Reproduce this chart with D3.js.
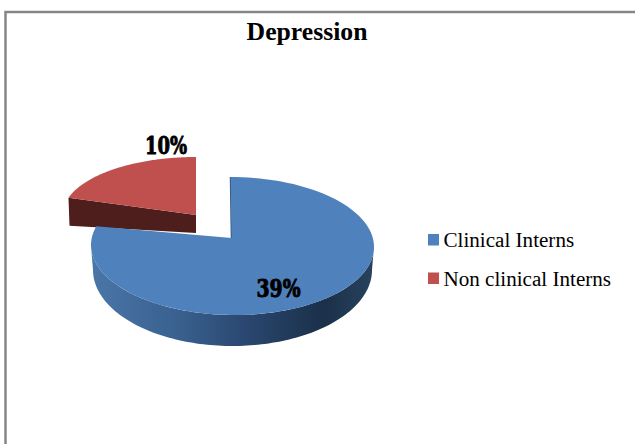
<!DOCTYPE html>
<html>
<head>
<meta charset="utf-8">
<script src="https://cdn.jsdelivr.net/npm/d3@7"></script>
<style>
  html, body { margin: 0; padding: 0; background: #fff; }
  svg { display: block; }
</style>
</head>
<body>
<svg id="chart" width="635" height="444"></svg>
<script>
const categories = ["Clinical Interns", "Non clinical Interns"];
const values = [39, 10];
const valueLabels = ["39%", "10%"];
const colors = ["#4f81bd", "#c0504d"];
const chartTitle = "Depression";

const svg = d3.select("#chart");
const serif = "'Liberation Serif', 'Times New Roman', serif";

// Chart frame: open at the right and bottom of the page.
svg.append("path")
  .attr("d", "M5.5,444V12H635")
  .attr("fill", "none").attr("stroke", "#868686").attr("stroke-width", 2.5);

svg.append("text")
  .attr("x", 307).attr("y", 39.5)
  .attr("text-anchor", "middle")
  .attr("font-family", serif).attr("font-weight", "bold").attr("font-size", 25.7)
  .attr("fill", "#000").text(chartTitle);

const defs = svg.append("defs");
const sideGradient = defs.append("linearGradient")
  .attr("id", "blueSide").attr("gradientUnits", "userSpaceOnUse")
  .attr("x1", 91).attr("x2", 374).attr("y1", 0).attr("y2", 0);
[[0, "#4a76a8"], [0.3, "#3a618f"], [0.55, "#2a4770"], [0.82, "#1b3049"], [1, "#27435f"]]
  .forEach(([o, c]) => sideGradient.append("stop").attr("offset", o).attr("stop-color", c));

// d3.pie supplies the slice angles, clockwise from twelve o'clock.
const slices = d3.pie().sort(null).value(d => d)(values);
const [clinical, nonClinical] = slices;

// Each rim is an ellipse seen in perspective, with a slight lean.
const rim = e => t => [
  e.cx + e.rx * Math.sin(t) - (e.lean || 0) * Math.cos(t),
  e.cy - e.ry * Math.cos(t)
];
const arcPoints = (e, a0, a1) => {
  const n = 120;
  return d3.range(n + 1).map(i => rim(e)(a0 + (a1 - a0) * i / n));
};
const line = d3.line();

const blueTop = { cx: 232.5, cy: 246, rx: 141.5, ry: 69, lean: 2 };
const blueBottom = { cx: 232.5, cy: 270, rx: 139.5, ry: 76 };
const blueApex = [231.5, 238];
const redTop = { cx: 196, cy: 214, rx: 133, ry: 57 };
const redApex = [196, 215];
const redDepth = 28;

// Exploded slice: the cut wall sits behind the main slice.
const redStart = rim(redTop)(nonClinical.startAngle);
svg.append("path")
  .attr("d", line([redStart, redApex, [redApex[0], redApex[1] + 18], [redStart[0] + 1, redStart[1] + redDepth]]) + "Z")
  .attr("fill", "#4d1e1c");
svg.append("path")
  .attr("d", line([redApex, ...arcPoints(redTop, nonClinical.startAngle, nonClinical.endAngle)]) + "Z")
  .attr("fill", colors[1]);

// Outer wall of the main slice, from its right extreme round to the left.
const wallTop = arcPoints(blueTop, Math.PI / 2, Math.PI * 1.5);
const wallBottom = arcPoints(blueBottom, Math.PI * 1.5, Math.PI / 2);
svg.append("path")
  .attr("d", line([...wallTop, ...wallBottom]) + "Z")
  .attr("fill", "url(#blueSide)");

// Thin shaded edge along the vertical cut.
svg.append("path")
  .attr("d", line([rim(blueTop)(clinical.startAngle), blueApex]))
  .attr("stroke", "#2f4f75").attr("stroke-width", 1.5).attr("fill", "none");

svg.append("path")
  .attr("d", line([blueApex, ...arcPoints(blueTop, clinical.startAngle, clinical.endAngle)]) + "Z")
  .attr("fill", colors[0]);

// Value labels, condensed to fit their heavy display look.
const labelPos = [[278.5, 297], [166, 154]];
const labelWidth = [44, 42];
svg.selectAll("text.value")
  .data(valueLabels)
  .join("text")
  .attr("class", "value")
  .attr("x", (d, i) => labelPos[i][0])
  .attr("y", (d, i) => labelPos[i][1])
  .attr("text-anchor", "middle")
  .attr("textLength", (d, i) => labelWidth[i])
  .attr("lengthAdjust", "spacingAndGlyphs")
  .attr("font-family", "'DejaVu Serif', serif")
  .attr("font-weight", "bold").attr("font-size", 25)
  .attr("stroke", "#000").attr("stroke-width", 1)
  .attr("fill", "#000")
  .text(d => d);

// Legend.
const legendY = d3.scalePoint().domain(categories).range([239.5, 278]);
const legend = svg.selectAll("g.legend")
  .data(categories)
  .join("g")
  .attr("class", "legend")
  .attr("transform", d => `translate(428,${legendY(d)})`);
legend.append("rect")
  .attr("x", 0).attr("y", -5.5)
  .attr("width", 11).attr("height", 11.5)
  .attr("fill", (d, i) => colors[i]);
legend.append("text")
  .attr("x", 15.5).attr("y", 7.5)
  .attr("font-family", serif).attr("font-size", 21.1)
  .attr("fill", "#000")
  .text(d => d);
</script>
</body>
</html>
